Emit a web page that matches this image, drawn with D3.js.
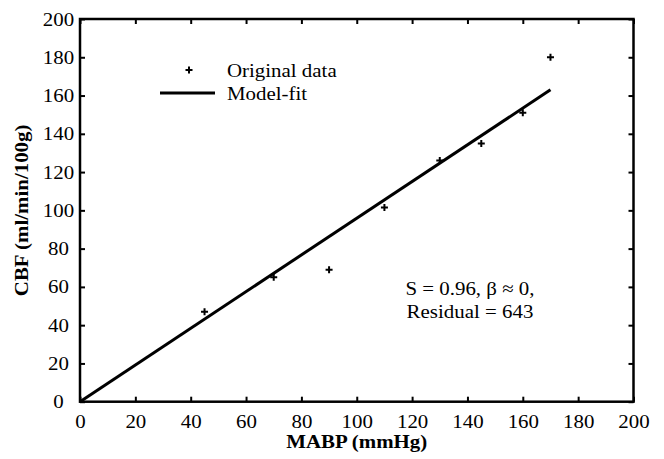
<!doctype html>
<html>
<head>
<meta charset="utf-8">
<script src="https://cdn.jsdelivr.net/npm/d3@7"></script>
<style>
  body { margin: 0; background: #fff; }
  text { font-family: "Liberation Serif", "Times New Roman", serif; fill: #000; }
</style>
</head>
<body>
<div id="chart"></div>
<script>
// data
var mabp = [45, 70, 90, 110, 130, 145, 160, 170];
var cbf  = [47, 65, 69, 101.5, 126, 135, 151, 180];
var fitX = [0, 170];
var fitY = [0, 163];
var xTicks = [0, 20, 40, 60, 80, 100, 120, 140, 160, 180, 200];
var yTicks = [0, 20, 40, 60, 80, 100, 120, 140, 160, 180, 200];

var W = 664, H = 459;
// plot box edges (window.top is reserved, so use other names)
var plotL = 80, plotR = 633.5, plotT = 19, plotB = 401.7;
var stretch = 1.1; // text in the figure is a bit wider than normal

var svg = d3.select("#chart").append("svg")
    .attr("width", W)
    .attr("height", H);

var x = d3.scaleLinear().domain([0, 200]).range([plotL, plotR]);
var y = d3.scaleLinear().domain([0, 200]).range([plotB, plotT]);

function widen(sel) {
  sel.each(function() {
    var len = this.getComputedTextLength();
    this.setAttribute("textLength", len * stretch);
    this.setAttribute("lengthAdjust", "spacingAndGlyphs");
  });
}

// bottom axis with labels
var xAxis = svg.append("g")
    .attr("transform", "translate(0," + plotB + ")")
    .call(d3.axisBottom(x).tickValues(xTicks).tickSize(-5).tickSizeOuter(0).tickPadding(12.5));

// left axis with labels
var yAxis = svg.append("g")
    .attr("transform", "translate(" + plotL + ",0)")
    .call(d3.axisLeft(y).tickValues(yTicks).tickSize(-5).tickSizeOuter(0));

// top and right: ticks only
svg.append("g")
    .attr("transform", "translate(0," + plotT + ")")
    .call(d3.axisTop(x).tickValues(xTicks).tickSize(-5).tickSizeOuter(0).tickFormat(""));
svg.append("g")
    .attr("transform", "translate(" + plotR + ",0)")
    .call(d3.axisRight(y).tickValues(yTicks).tickSize(-5).tickSizeOuter(0).tickFormat(""));

svg.selectAll(".domain").remove();
svg.selectAll(".tick line").attr("stroke", "#000").attr("stroke-width", 2);
svg.selectAll("g").attr("font-family", null).attr("font-size", null);

xAxis.selectAll("text")
    .style("font-size", "19px")
    .call(widen);

yAxis.selectAll("text")
    .attr("x", 58.5 - plotL)
    .attr("text-anchor", "middle")
    .style("font-size", "19px")
    .call(widen);

// frame
svg.append("rect")
    .attr("x", plotL)
    .attr("y", plotT)
    .attr("width", plotR - plotL)
    .attr("height", plotB - plotT)
    .attr("fill", "none")
    .attr("stroke", "#000")
    .attr("stroke-width", 2.5);

// model fit line
var fitData = fitX.map(function(v, i) { return [v, fitY[i]]; });
svg.append("path")
    .datum(fitData)
    .attr("fill", "none")
    .attr("stroke", "#000")
    .attr("stroke-width", 3)
    .attr("d", d3.line().x(function(d) { return x(d[0]); }).y(function(d) { return y(d[1]); }));

// data points as plus signs
function plus(cx, cy) {
  var s = 3.5;
  return "M" + (cx - s) + "," + cy + "H" + (cx + s) + "M" + cx + "," + (cy - s) + "V" + (cy + s);
}
svg.selectAll(".pt")
    .data(mabp)
    .enter().append("path")
    .attr("class", "pt")
    .attr("fill", "none")
    .attr("stroke", "#000")
    .attr("stroke-width", 2)
    .attr("d", function(d, i) { return plus(x(d), y(cbf[i])); });

// legend
svg.append("path")
    .attr("fill", "none")
    .attr("stroke", "#000")
    .attr("stroke-width", 2)
    .attr("d", plus(189, 70));
svg.append("line")
    .attr("x1", 160).attr("x2", 215)
    .attr("y1", 93).attr("y2", 93)
    .attr("stroke", "#000")
    .attr("stroke-width", 3);
svg.append("text")
    .attr("x", 227).attr("y", 77)
    .style("font-size", "19px")
    .text("Original data")
    .call(widen);
svg.append("text")
    .attr("x", 227).attr("y", 100)
    .style("font-size", "19px")
    .text("Model-fit")
    .call(widen);

// annotation
svg.append("text")
    .attr("x", 470).attr("y", 295)
    .attr("text-anchor", "middle")
    .style("font-size", "19px")
    .text("S = 0.96, \u03b2 \u2248 0,")
    .call(widen);
svg.append("text")
    .attr("x", 470).attr("y", 318)
    .attr("text-anchor", "middle")
    .style("font-size", "19px")
    .text("Residual = 643")
    .call(widen);

// axis titles
svg.append("text")
    .attr("x", (plotL + plotR) / 2).attr("y", 448)
    .attr("text-anchor", "middle")
    .style("font-size", "19px")
    .style("font-weight", "bold")
    .text("MABP (mmHg)")
    .call(widen);

svg.append("text")
    .attr("transform", "translate(28," + ((plotT + plotB) / 2) + ") rotate(-90)")
    .attr("text-anchor", "middle")
    .style("font-size", "19px")
    .style("font-weight", "bold")
    .text("CBF (ml/min/100g)")
    .call(widen);
</script>
</body>
</html>
